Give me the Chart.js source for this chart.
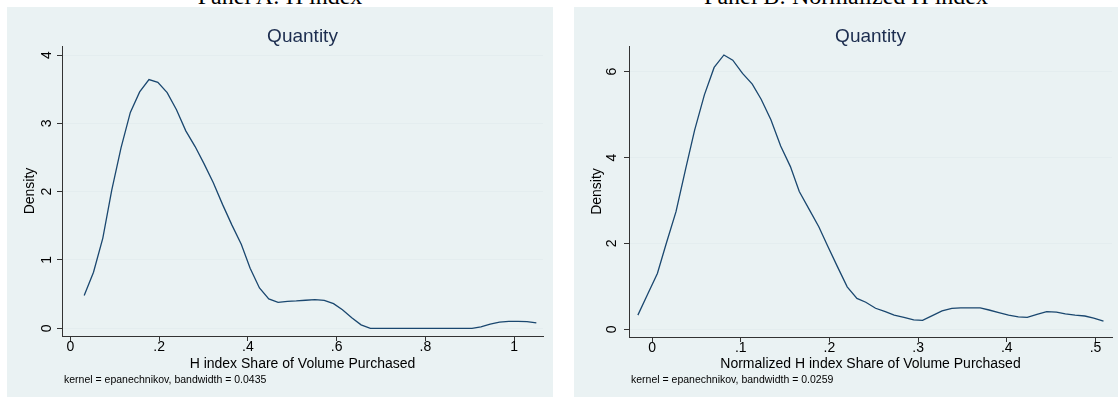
<!DOCTYPE html>
<html>
<head>
<meta charset="utf-8">
<script src="https://cdn.jsdelivr.net/npm/chart.js@4.4.1/dist/chart.umd.min.js"></script>
<style>
  html, body { margin:0; padding:0; background:#fff; width:1118px; height:403px; overflow:hidden; position:relative; }
  .panel { position:absolute; top:7px; height:390px; background:#eaf2f3; }
  .ptitle { position:absolute; top:-16px; font:24px "Liberation Serif","Times New Roman",serif; line-height:24px;
            white-space:nowrap; transform:translateX(-50%); color:#000; }
</style>
</head>
<body>
<div class="ptitle" style="left:280px">Panel A: H index</div>
<div class="ptitle" style="left:846px">Panel B: Normalized H index</div>
<div class="panel" style="left:7px;width:546px"><canvas id="chartA" width="546" height="390"></canvas></div>
<div class="panel" style="left:574px;width:544px"><canvas id="chartB" width="544" height="390"></canvas></div>

<script>
// Panel A: kernel density of the H index (50 evaluation points)
const hX = [0.031,0.052,0.073,0.093,0.114,0.135,0.156,0.177,0.197,0.218,
            0.239,0.260,0.281,0.301,0.322,0.343,0.364,0.385,0.405,0.426,
            0.447,0.468,0.489,0.509,0.530,0.551,0.572,0.593,0.613,0.634,
            0.655,0.676,0.697,0.717,0.738,0.759,0.780,0.801,0.821,0.842,
            0.863,0.884,0.905,0.925,0.946,0.967,0.988,1.009,1.029,1.050];
const hDensity = [0.48,0.82,1.32,2.02,2.64,3.16,3.46,3.64,3.60,3.45,
                  3.20,2.89,2.66,2.41,2.13,1.81,1.51,1.23,0.88,0.59,
                  0.43,0.38,0.395,0.40,0.41,0.42,0.41,0.36,0.27,0.155,
                  0.05,0,0,0,0,0,0,0,0,0,
                  0,0,0,0.02,0.06,0.09,0.10,0.10,0.098,0.078];
const hXTicks = [0, 0.2, 0.4, 0.6, 0.8, 1];
const hXLabels = ["0", ".2", ".4", ".6", ".8", "1"];
const hYTicks = [0, 1, 2, 3, 4];
const hYLabels = ["0", "1", "2", "3", "4"];

// Panel B: kernel density of the normalized H index
const nX = [-0.016,-0.005,0.006,0.016,0.027,0.038,0.048,0.059,0.070,0.081,
            0.091,0.102,0.113,0.123,0.134,0.145,0.156,0.166,0.177,0.188,
            0.198,0.209,0.220,0.231,0.241,0.252,0.263,0.273,0.284,0.295,
            0.305,0.316,0.327,0.338,0.348,0.359,0.370,0.380,0.391,0.402,
            0.413,0.423,0.434,0.445,0.456,0.466,0.477,0.488,0.498,0.509];
const nDensity = [0.33,0.815,1.30,2.00,2.74,3.75,4.64,5.46,6.10,6.39,
                  6.27,5.96,5.71,5.36,4.88,4.27,3.79,3.21,2.80,2.39,
                  1.94,1.46,0.99,0.72,0.63,0.49,0.41,0.33,0.28,0.22,
                  0.21,0.32,0.43,0.49,0.50,0.50,0.50,0.45,0.39,0.33,
                  0.29,0.28,0.35,0.41,0.40,0.36,0.33,0.31,0.26,0.19];
const nXTicks = [0, 0.1, 0.2, 0.3, 0.4, 0.5];
const nXLabels = ["0", ".1", ".2", ".3", ".4", ".5"];
const nYTicks = [0, 2, 4, 6];
const nYLabels = ["0", "2", "4", "6"];

const FONT = '"Liberation Sans", Arial, Helvetica, sans-serif';
const AXIS = "#333333";
const GRID = "#e4edef";
const LINE = "#1a476f";

Chart.defaults.font.family = FONT;
Chart.defaults.color = "#000";

// header ("Quantity") and kernel note, drawn inside each panel
const panelText = {
  id: "panelText",
  afterDraw(chart, args, o) {
    const { ctx, chartArea: a } = chart;
    ctx.save();
    ctx.fillStyle = "#1c2d4f";
    ctx.font = "19px " + FONT;
    ctx.textAlign = "center";
    ctx.textBaseline = "alphabetic";
    ctx.fillText(o.header, (a.left + a.right) / 2, 35);
    ctx.fillStyle = "#000";
    ctx.font = "10.5px " + FONT;
    ctx.textAlign = "left";
    ctx.fillText(o.note, a.left + 2, 376);
    ctx.restore();
  }
};

function densityChart(id, xs, ys, cfg) {
  return new Chart(document.getElementById(id), {
    type: "line",
    data: {
      datasets: [{
        data: xs.map((x, i) => ({ x: x, y: ys[i] })),
        borderColor: LINE, borderWidth: 1.3,
        pointRadius: 0, tension: 0, fill: false
      }]
    },
    options: {
      responsive: false, animation: false, devicePixelRatio: 1,
      layout: { padding: { top: 39, right: cfg.padRight, bottom: 0, left: 0 } },
      plugins: {
        legend: { display: false }, tooltip: { enabled: false },
        panelText: { header: "Quantity", note: cfg.note }
      },
      scales: {
        x: {
          type: "linear", min: cfg.xMin, max: cfg.xMax,
          afterFit: s => { s.height = cfg.xHeight; },
          afterBuildTicks: s => { s.ticks = cfg.xTicks.map(v => ({ value: v })); },
          ticks: { callback: (v, i) => cfg.xLabels[i], font: { size: 14 }, padding: -2, maxRotation: 0 },
          grid: { drawOnChartArea: false, drawTicks: true, tickLength: 5, tickColor: AXIS },
          border: { color: AXIS, width: 1 },
          title: { display: true, text: cfg.xTitle, font: { size: 14 }, padding: { top: 0, bottom: 24.5 } }
        },
        y: {
          min: cfg.yMin, max: cfg.yMax,
          afterFit: s => { s.width = 55; },
          afterBuildTicks: s => { s.ticks = cfg.yTicks.map(v => ({ value: v })); },
          ticks: { callback: (v, i) => cfg.yLabels[i], font: { size: 14 }, minRotation: 90, maxRotation: 90,
                   crossAlign: "center", padding: cfg.yPad },
          grid: { color: GRID, lineWidth: 1, tickColor: AXIS, tickLength: 5 },
          border: { color: AXIS, width: 1 },
          title: { display: true, text: "Density", font: { size: 14 }, padding: { top: 14.6, bottom: 0 } }
        }
      }
    },
    plugins: [panelText]
  });
}

densityChart("chartA", hX, hDensity, {
  xMin: -0.019, xMax: 1.065, yMin: -0.113, yMax: 4.132,
  xTicks: hXTicks, xLabels: hXLabels, yTicks: hYTicks, yLabels: hYLabels,
  xTitle: "H index Share of Volume Purchased",
  note: "kernel = epanechnikov, bandwidth = 0.0435",
  padRight: 10, xHeight: 61, yPad: 6
});

densityChart("chartB", nX, nDensity, {
  xMin: -0.026, xMax: 0.5186, yMin: -0.179, yMax: 6.599,
  xTicks: nXTicks, xLabels: nXLabels, yTicks: nYTicks, yLabels: nYLabels,
  xTitle: "Normalized H index Share of Volume Purchased",
  note: "kernel = epanechnikov, bandwidth = 0.0259",
  padRight: 6, xHeight: 60, yPad: 8
});
</script>
</body>
</html>
